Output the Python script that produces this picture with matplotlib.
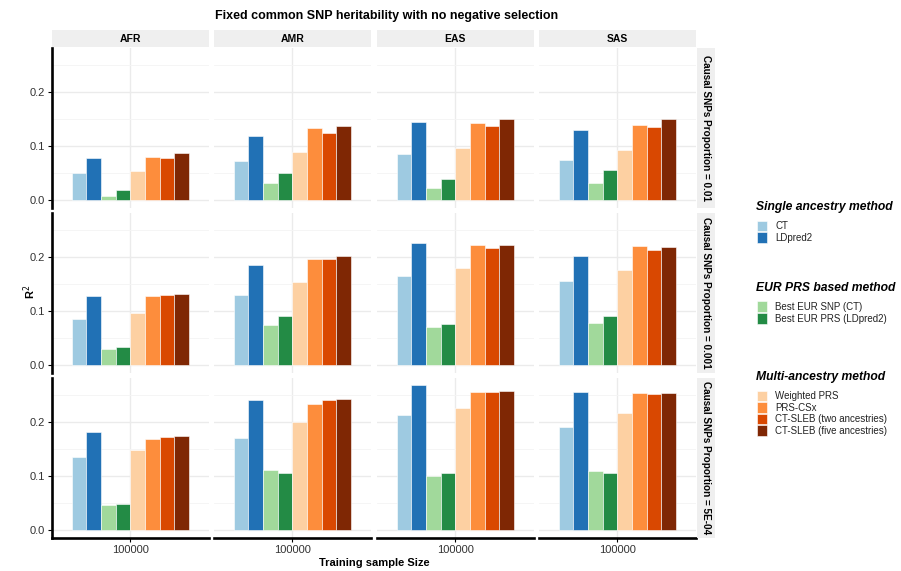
import numpy as np
import matplotlib
matplotlib.use('Agg')
import matplotlib.pyplot as plt
from matplotlib.patches import Rectangle

# 数据：每个面板 8 种方法的 R2
ancestries = ['AFR', 'AMR', 'EAS', 'SAS']
proportions = ['0.01', '0.001', '5E-04']
methods = ['CT', 'LDpred2', 'Best EUR SNP (CT)', 'Best EUR PRS (LDpred2)',
           'Weighted PRS', 'PRS-CSx', 'CT-SLEB (two ancestries)', 'CT-SLEB (five ancestries)']
colors = ['#9ECAE1', '#2171B5', '#A1D99B', '#238B45',
          '#FDD0A2', '#FD8D3C', '#D94801', '#7F2704']
sample_size = '100000'

r2_p01 = [
    [0.049, 0.078, 0.007, 0.017, 0.054, 0.079, 0.077, 0.087],   # AFR
    [0.071, 0.119, 0.031, 0.050, 0.089, 0.133, 0.123, 0.137],   # AMR
    [0.084, 0.145, 0.022, 0.039, 0.096, 0.143, 0.137, 0.150],   # EAS
    [0.074, 0.130, 0.030, 0.055, 0.093, 0.138, 0.134, 0.149],   # SAS
]
r2_p001 = [
    [0.085, 0.127, 0.029, 0.033, 0.096, 0.128, 0.129, 0.132],
    [0.129, 0.185, 0.073, 0.091, 0.154, 0.196, 0.197, 0.202],
    [0.164, 0.225, 0.070, 0.075, 0.179, 0.223, 0.217, 0.222],
    [0.156, 0.202, 0.078, 0.091, 0.175, 0.221, 0.213, 0.218],
]
r2_p5e4 = [
    [0.135, 0.182, 0.045, 0.047, 0.147, 0.168, 0.172, 0.174],
    [0.170, 0.241, 0.110, 0.106, 0.199, 0.233, 0.241, 0.243],
    [0.213, 0.268, 0.100, 0.106, 0.226, 0.256, 0.255, 0.257],
    [0.191, 0.255, 0.109, 0.105, 0.216, 0.254, 0.251, 0.254],
]
all_r2 = [r2_p01, r2_p001, r2_p5e4]

legend_groups = [
    ('Single ancestry method', [0, 1]),
    ('EUR PRS based method', [2, 3]),
    ('Multi-ancestry method', [4, 5, 6, 7]),
]

W, H = 901, 571
fig = plt.figure(figsize=(W / 100, H / 100), dpi=100)
plt.rcParams['font.family'] = ['Liberation Sans', 'DejaVu Sans']


def px_axes(x, y, w, h):
    # 以像素坐标(左上角为原点)创建坐标轴
    return fig.add_axes([x / W, 1 - (y + h) / H, w / W, h / H])


col_x = [52, 214, 377, 539]
col_w = 156.5
row_y = [48, 213, 378]
row_h = 160
strip_col = '#EFEFEF'
grid_col = '#EBEBEB'

for r, prop in enumerate(proportions):
    for c, anc in enumerate(ancestries):
        ax = px_axes(col_x[c], row_y[r], col_w, row_h)
        vals = all_r2[r][c]
        n = len(vals)
        bw = 0.9 / n
        xs = 1 - 0.45 + bw / 2 + bw * np.arange(n)
        ax.bar(xs, vals, width=bw, color=colors, edgecolor='white',
               linewidth=0.4, zorder=3)
        ax.set_xlim(0.4, 1.6)
        ax.set_ylim(-0.0155, 0.2815)
        ax.set_yticks([0, 0.1, 0.2])
        ax.set_yticks([0.05, 0.15, 0.25], minor=True)
        ax.set_xticks([1])
        ax.grid(True, which='major', color=grid_col, linewidth=1.0, zorder=0)
        ax.grid(True, which='minor', axis='y', color='#F4F4F4', linewidth=0.6, zorder=0)
        for s in ax.spines.values():
            s.set_visible(False)
        ax.tick_params(which='minor', length=0)
        if c == 0:
            ax.spines['left'].set_visible(True)
            ax.spines['left'].set_linewidth(1.9)
            ax.set_yticklabels(['0.0', '0.1', '0.2'])
            ax.tick_params(axis='y', length=3, width=0.8, labelsize=8,
                           labelcolor='#333333', pad=2)
        else:
            ax.tick_params(axis='y', length=0, labelleft=False)
        if r == 2:
            ax.spines['bottom'].set_visible(True)
            ax.spines['bottom'].set_linewidth(1.9)
            ax.set_xticklabels([sample_size])
            ax.tick_params(axis='x', length=3, width=0.8, labelsize=8,
                           labelcolor='#333333', pad=2)
        else:
            ax.tick_params(axis='x', length=0, labelbottom=False)

        # 顶部分面标签
        if r == 0:
            sax = px_axes(col_x[c], 30, col_w, 17)
            sax.add_patch(Rectangle((0, 0), 1, 1, color=strip_col))
            sax.text(0.5, 0.5, anc, ha='center', va='center',
                     fontsize=7.5, fontweight='bold')
            sax.set_axis_off()
        # 右侧分面标签
        if c == 3:
            sax = px_axes(697, row_y[r], 18, row_h)
            sax.add_patch(Rectangle((0, 0), 1, 1, color=strip_col))
            sax.text(0.5, 0.5, 'Causal SNPs Proportion = ' + prop, ha='center',
                     va='center', rotation=-90, fontsize=7.2, fontweight='bold')
            sax.set_axis_off()

fig.text(387 / W, 1 - 16 / H, 'Fixed common SNP heritability with no negative selection',
         ha='center', va='center', fontsize=9, fontweight='bold')
fig.text(374 / W, 1 - 563 / H, 'Training sample Size', ha='center', va='center',
         fontsize=8, fontweight='bold')
fig.text(30 / W, 1 - 292 / H, r'R$^2$', ha='center', va='center',
         rotation=90, fontsize=8, fontweight='bold')

# 图例
title_y = [207, 288, 377]
for (title, idx), ty in zip(legend_groups, title_y):
    fig.text(756 / W, 1 - ty / H, title, ha='left', va='center', fontsize=8.7,
             fontweight='bold', style='italic')
    for k, i in enumerate(idx):
        ey = ty + 19 + k * 11.6
        fig.patches.append(Rectangle(((757) / W, 1 - (ey + 5) / H), 10 / W, 10.5 / H,
                                     transform=fig.transFigure, facecolor=colors[i],
                                     edgecolor='white', linewidth=0.4))
        fig.text(775 / W, 1 - ey / H, methods[i], ha='left', va='center',
                 fontsize=7, color='#222222')

fig.savefig('out.png', dpi=100)
